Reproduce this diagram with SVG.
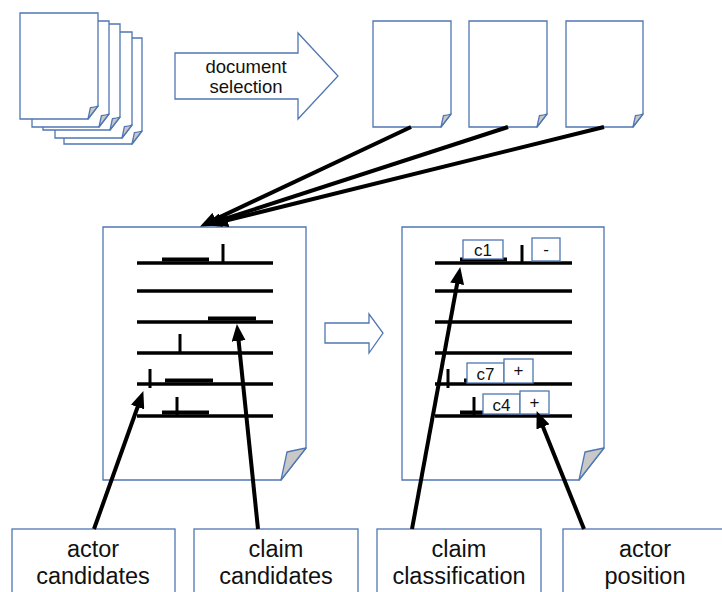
<svg xmlns="http://www.w3.org/2000/svg" width="722" height="592" viewBox="0 0 722 592">
<style>
.pg{fill:#fff;stroke:#4f76b3;stroke-width:1.3;stroke-linejoin:miter}
.fl{fill:#c8c8c8;stroke:#4f76b3;stroke-width:1.3;stroke-linejoin:round}
.bx{fill:#fff;stroke:#4f76b3;stroke-width:1.3}
.ln{stroke:#000;stroke-width:3.5}
.tk{stroke:#000;stroke-width:3}
.bar{fill:#000}
.con{stroke:#000;stroke-width:4;fill:none;marker-end:url(#ah)}
.t{font-family:"Liberation Sans",Arial,sans-serif;fill:#111;text-anchor:middle}
</style>
<defs>
<marker id="ah" markerUnits="userSpaceOnUse" markerWidth="18" markerHeight="14" refX="8" refY="7" orient="auto">
<path d="M0,0 L17,7 L0,14 Z" fill="#000"/>
</marker>
</defs>
<rect width="722" height="592" fill="#fff"/>

<g id="doc-stack">
<path class="pg" d="M64,38 H142 V131 L132,144 H64 Z"/><path class="fl" d="M142,131 Q138.5,132 134.4,132.6 L132,144 Z"/>
<path class="pg" d="M55,32 H132 V125 L122,138 H55 Z"/><path class="fl" d="M132,125 Q128.5,126 124.4,126.6 L122,138 Z"/>
<path class="pg" d="M43,24 H120 V117 L110,130 H43 Z"/><path class="fl" d="M120,117 Q116.5,118 112.4,118.6 L110,130 Z"/>
<path class="pg" d="M32,21 H109 V114 L99,127 H32 Z"/><path class="fl" d="M109,114 Q105.5,115 101.4,115.6 L99,127 Z"/>
<path class="pg" d="M20,13 H98 V106 L88,119 H20 Z"/><path class="fl" d="M98,106 Q94.5,107 90.4,107.6 L88,119 Z"/>
</g>

<g id="document-selection">
<polygon class="bx" points="175,53 298,53 298,33 338,76 298,119 298,99 175,99"/>
<text class="t" x="246" y="73" font-size="18.5">document</text>
<text class="t" x="246" y="93" font-size="18.5">selection</text>
</g>

<g id="doc-a">
<path class="pg" d="M373,21 H451 V114 L441,127 H373 Z"/><path class="fl" d="M451,114 Q447.5,115 443.4,115.6 L441,127 Z"/>
</g>
<g id="doc-b">
<path class="pg" d="M469,21 H547 V114 L537,127 H469 Z"/><path class="fl" d="M547,114 Q543.5,115 539.4,115.6 L537,127 Z"/>
</g>
<g id="doc-c">
<path class="pg" d="M566,21 H643 V114 L633,127 H566 Z"/><path class="fl" d="M643,114 Q639.5,115 635.4,115.6 L633,127 Z"/>
</g>

<g id="doc-candidates">
<path class="pg" d="M103,227 H306 V448 L281,480 H103 Z"/>
<path class="fl" d="M306,448 Q296,450 287,452 L281,480 Z"/>
<g>
<line class="ln" x1="137" y1="263" x2="273" y2="263"/>
<line class="ln" x1="137" y1="291" x2="273" y2="291"/>
<line class="ln" x1="137" y1="322" x2="273" y2="322"/>
<line class="ln" x1="137" y1="353" x2="273" y2="353"/>
<line class="ln" x1="137" y1="384" x2="273" y2="384"/>
<line class="ln" x1="137" y1="416" x2="273" y2="416"/>
<rect class="bar" x="162" y="257.5" width="47" height="4"/>
<line class="tk" x1="223" y1="244" x2="223" y2="263"/>
<rect class="bar" x="208" y="316.5" width="48" height="4"/>
<line class="tk" x1="180" y1="334" x2="180" y2="353"/>
<line class="tk" x1="150" y1="369" x2="150" y2="388"/>
<rect class="bar" x="165" y="378.5" width="48" height="4"/>
<rect class="bar" x="162" y="410.5" width="47" height="4"/>
<line class="tk" x1="177" y1="397" x2="177" y2="416"/>
</g>
</g>

<g id="step-arrow">
<polygon class="bx" points="325,323 369,323 369,314 383,333 369,353 369,343 325,343"/>
</g>

<g id="doc-classified">
<path class="pg" d="M402,227 H604 V448 L579,480 H402 Z"/>
<path class="fl" d="M604,448 Q594,450 585,452 L579,480 Z"/>
<line class="ln" x1="435" y1="263" x2="572" y2="263"/>
<line class="ln" x1="435" y1="291" x2="572" y2="291"/>
<line class="ln" x1="435" y1="322" x2="572" y2="322"/>
<line class="ln" x1="435" y1="353" x2="572" y2="353"/>
<line class="ln" x1="435" y1="384" x2="572" y2="384"/>
<line class="ln" x1="435" y1="416" x2="572" y2="416"/>
<rect class="bar" x="460" y="257.5" width="47" height="4"/>
<line class="tk" x1="522" y1="245" x2="522" y2="263"/>
<rect class="bx" x="463" y="240" width="40" height="19"/>
<text class="t" x="483" y="255.5" font-size="17">c1</text>
<rect class="bx" x="532" y="238" width="28" height="23"/>
<text class="t" x="546" y="254.5" font-size="17">-</text>
<line class="tk" x1="448" y1="369" x2="448" y2="388"/>
<rect class="bar" x="464" y="378.5" width="46" height="4"/>
<rect class="bx" x="467" y="363" width="37" height="20"/>
<text class="t" x="485.5" y="379.5" font-size="17">c7</text>
<rect class="bx" x="504" y="359" width="29" height="24"/>
<text class="t" x="518.5" y="376" font-size="17">+</text>
<rect class="bar" x="460" y="410.5" width="47" height="4"/>
<line class="tk" x1="474" y1="397" x2="474" y2="416"/>
<rect class="bx" x="483" y="394" width="37" height="20"/>
<text class="t" x="501.5" y="410.5" font-size="17">c4</text>
<rect class="bx" x="520" y="391" width="29" height="23"/>
<text class="t" x="534.5" y="408" font-size="17">+</text>
</g>

<g id="box-actor-candidates">
<rect class="bx" x="12" y="529" width="163" height="80"/>
<text class="t" x="93" y="557" font-size="23.5">actor</text>
<text class="t" x="93" y="584" font-size="23.5">candidates</text>
</g>
<g id="box-claim-candidates">
<rect class="bx" x="194" y="529" width="164" height="80"/>
<text class="t" x="276" y="557" font-size="23.5">claim</text>
<text class="t" x="276" y="584" font-size="23.5">candidates</text>
</g>
<g id="box-claim-classification">
<rect class="bx" x="377" y="529" width="164" height="80"/>
<text class="t" x="459" y="557" font-size="23.5">claim</text>
<text class="t" x="459" y="584" font-size="23.5">classification</text>
</g>
<g id="box-actor-position">
<rect class="bx" x="563" y="529" width="170" height="80"/>
<text class="t" x="645" y="557" font-size="23.5">actor</text>
<text class="t" x="645" y="584" font-size="23.5">position</text>
</g>

<g id="connectors">
<line class="con" x1="411" y1="127" x2="208.2" y2="222.6"/>
<line class="con" x1="508" y1="127" x2="213.6" y2="222.5"/>
<line class="con" x1="604" y1="127" x2="219.8" y2="222.1"/>
<line class="con" x1="94" y1="529" x2="140.3" y2="399.5"/>
<line class="con" x1="258" y1="529" x2="237.8" y2="333"/>
<line class="con" x1="412" y1="529" x2="458.6" y2="275.9"/>
<line class="con" x1="584" y1="529" x2="540" y2="419.4"/>
</g>
</svg>
